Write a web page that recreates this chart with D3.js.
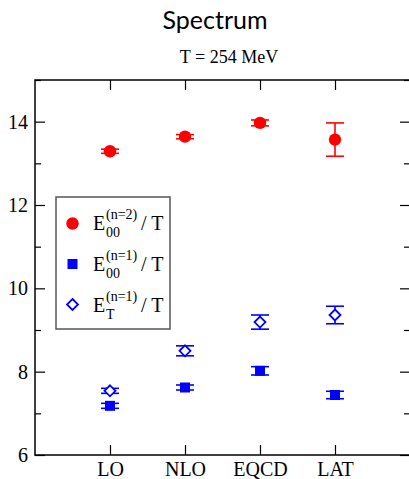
<!DOCTYPE html>
<html>
<head>
<meta charset="utf-8">
<script src="https://cdn.jsdelivr.net/npm/d3@7"></script>
<style>
body{margin:0;background:#fff}
svg{display:block}
</style>
</head>
<body>
<svg width="409" height="479"></svg>
<script>
// data
const cats=["LO","NLO","EQCD","LAT"]
const e2=[13.29,13.64,13.97,13.57]      // E00(n=2)/T
const e2err=[0.05,0.05,0.07,0.40]
const e1=[7.18,7.62,8.02,7.44]          // E00(n=1)/T
const e1err=[0.06,0.06,0.10,0.09]
const et=[7.54,8.50,9.19,9.36]          // ET(n=1)/T
const eterr=[0.06,0.12,0.17,0.21]
const yTicks=[6,8,10,12,14]
const yMinor=[7,9,11,13,15]

const svg=d3.select("svg")
const L=35,R=410,T=80,B=455
const x=d3.scaleLinear().domain([0,5]).range([L,R])
const y=d3.scaleLinear().domain([6,15]).range([B,T])
const serif="'Liberation Serif','Times New Roman',serif"

svg.append("text").attr("x",215).attr("y",29).attr("text-anchor","middle")
.attr("font-family","Lato,sans-serif").attr("font-size",25).text("Spectrum")
svg.append("text").attr("x",229).attr("y",63).attr("text-anchor","middle")
.attr("font-family",serif).attr("font-size",18).text("T = 254 MeV")

// axes
const tk=(g)=>{g.select(".domain").remove();g.selectAll("text").attr("font-family",serif).attr("font-size",20).attr("fill","#000");g.selectAll("line").attr("stroke","#000").attr("stroke-width",1.2)}
svg.append("g").attr("transform",`translate(${L},0)`)
.call(d3.axisLeft(y).tickValues(yTicks).tickSize(-10).tickPadding(7).tickFormat(d3.format("d"))).call(tk)
svg.append("g").attr("transform",`translate(${L},0)`)
.call(d3.axisLeft(y).tickValues(yMinor).tickSize(-6).tickFormat("")).call(tk)
svg.append("g").attr("transform",`translate(${R},0)`)
.call(d3.axisRight(y).tickValues(yTicks).tickSize(-10).tickFormat("")).call(tk)
svg.append("g").attr("transform",`translate(${R},0)`)
.call(d3.axisRight(y).tickValues(yMinor).tickSize(-6).tickFormat("")).call(tk)
svg.append("g").attr("transform",`translate(0,${B})`)
.call(d3.axisBottom(x).tickValues([1,2,3,4]).tickSize(-10).tickPadding(7).tickFormat((d)=>cats[d-1])).call(tk)
svg.append("g").attr("transform",`translate(0,${T})`)
.call(d3.axisTop(x).tickValues([1,2,3,4]).tickSize(-10).tickFormat("")).call(tk)
svg.append("rect").attr("x",L).attr("y",T).attr("width",R-L).attr("height",B-T)
.attr("fill","none").attr("stroke","#000").attr("stroke-width",1.5)

function errs(vals,er,col){
const g=svg.append("g").attr("stroke",col).attr("stroke-width",1.6)
vals.forEach((v,i)=>{
const cx=x(i+1)
g.append("line").attr("x1",cx).attr("x2",cx).attr("y1",y(v-er[i])).attr("y2",y(v+er[i]))
;[v-er[i],v+er[i]].forEach((e)=>g.append("line").attr("x1",cx-9).attr("x2",cx+9).attr("y1",y(e)).attr("y2",y(e)))
})}
errs(e2,e2err,"#ff0000")
errs(e1,e1err,"#0000ff")
errs(et,eterr,"#0000ff")

svg.append("g").selectAll("circle").data(e2).join("circle")
.attr("cx",(d,i)=>x(i+1)).attr("cy",(d)=>y(d)).attr("r",6.2).attr("fill","#ff0000")
svg.append("g").selectAll("rect").data(e1).join("rect")
.attr("x",(d,i)=>x(i+1)-5).attr("y",(d)=>y(d)-5).attr("width",10).attr("height",10).attr("fill","#0000ff")
const dia=(cx,cy,s)=>`M${cx},${cy-s}L${cx+s},${cy}L${cx},${cy+s}L${cx-s},${cy}Z`
svg.append("g").selectAll("path").data(et).join("path")
.attr("d",(d,i)=>dia(x(i+1),y(d),5.5)).attr("fill","#fff").attr("stroke","#0000ff").attr("stroke-width",1.8)

// legend
svg.append("rect").attr("x",56).attr("y",197).attr("width",114).attr("height",132)
.attr("fill","#fff").attr("stroke","#555").attr("stroke-width",1.5)
svg.append("circle").attr("cx",72.5).attr("cy",223.5).attr("r",6.2).attr("fill","#ff0000")
svg.append("rect").attr("x",67.5).attr("y",259).attr("width",10).attr("height",10).attr("fill","#0000ff")
svg.append("path").attr("d",dia(72.5,304.5,5.5)).attr("fill","#fff").attr("stroke","#0000ff").attr("stroke-width",1.8)
const leg=[["(n=2)","00",230],["(n=1)","00",271],["(n=1)","T",312]]
leg.forEach(([sup,sub,by])=>{
const t=(tx,ty,fs,s)=>svg.append("text").attr("x",tx).attr("y",ty).attr("font-family",serif).attr("font-size",fs).text(s)
t(93,by,20,"E")
t(106,by-11,14,sup)
t(106,by+7,14,sub)
t(141,by,20,"/ T")
})
</script>
</body>
</html>
